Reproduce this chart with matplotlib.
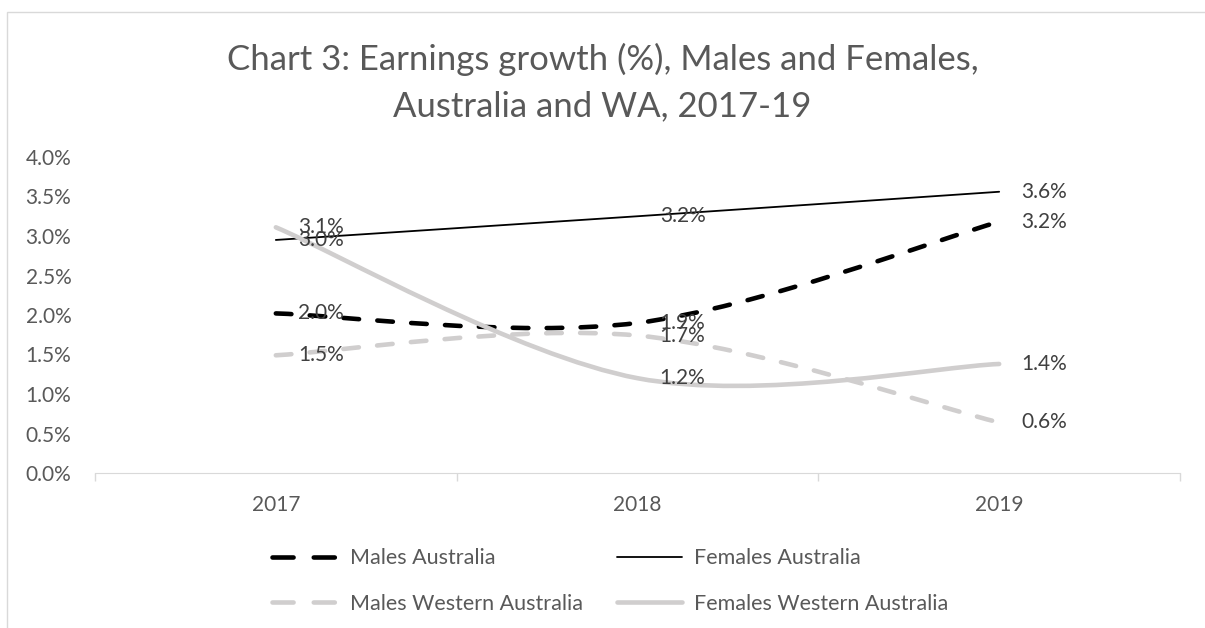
import numpy as np
import matplotlib
matplotlib.use("Agg")
import matplotlib.pyplot as plt
from matplotlib.path import Path
from matplotlib.patches import PathPatch, Rectangle
from matplotlib.lines import Line2D

plt.rcParams['font.family'] = ['Lato', 'DejaVu Sans']

years = ['2017', '2018', '2019']
males_aus = [2.02, 1.90, 3.18]
females_aus = [2.95, 3.25, 3.56]
males_wa = [1.49, 1.74, 0.64]
females_wa = [3.11, 1.20, 1.38]

TXT = '#595959'
LBL = '#404040'
GREY = '#D0CECE'


def smooth_path(xs, ys, t=1 / 6):
    # Excel-like smoothed line: cubic Bezier segments from Catmull-Rom tangents
    p = np.column_stack([xs, ys]).astype(float)
    ext = np.vstack([p[0], p, p[-1]])
    verts = [p[0]]
    codes = [Path.MOVETO]
    for i in range(len(p) - 1):
        p0, p1, p2, p3 = ext[i], ext[i + 1], ext[i + 2], ext[i + 3]
        verts += [p1 + (p2 - p0) * t, p2 - (p3 - p1) * t, p2]
        codes += [Path.CURVE4] * 3
    return Path(verts, codes)


fig = plt.figure(figsize=(12.05, 6.28), dpi=100)
ax = fig.add_axes([95 / 1205, 155 / 628, 1085 / 1205, 316 / 628])

x = np.arange(len(years))
series = [
    ('Males Australia', males_aus, 'black', 3.3, (0, (3.4, 4.0))),
    ('Females Australia', females_aus, 'black', 1.3, '-'),
    ('Males Western Australia', males_wa, GREY, 3.3, (0, (3.4, 4.0))),
    ('Females Western Australia', females_wa, GREY, 3.3, '-'),
]
handles = {}
for name, vals, col, lw, ls in series:
    patch = PathPatch(smooth_path(x, vals), fill=False, edgecolor=col, lw=lw,
                      linestyle=ls, capstyle='round', joinstyle='round')
    ax.add_patch(patch)
    hls = (0, (4.6, 4.4)) if ls != '-' else '-'
    handles[name] = Line2D([], [], color=col, lw=lw, linestyle=hls,
                           dash_capstyle='round', solid_capstyle='round')
    for xi, v in zip(x, vals):
        ax.annotate(f'{v:.1f}%', (xi, v), xytext=(16, 0), textcoords='offset points',
                    ha='left', va='center', fontsize=15, color=LBL)

ax.set_xlim(-0.5, 2.5)
ax.set_ylim(0, 4.0)
ax.set_yticks(np.arange(0, 4.01, 0.5))
ax.set_yticklabels([f'{v:.1f}%' for v in np.arange(0, 4.01, 0.5)])
ax.set_xticks(x)
ax.set_xticklabels(years)
ax.set_xticks([-0.5, 0.5, 1.5, 2.5], minor=True)
ax.tick_params(axis='x', which='major', length=0, pad=16, labelsize=15, labelcolor=TXT)
ax.tick_params(axis='x', which='minor', length=6, color='#D9D9D9', width=1)
ax.tick_params(axis='y', length=0, pad=17, labelsize=15, labelcolor=TXT)
for s in ['top', 'right', 'left']:
    ax.spines[s].set_visible(False)
ax.spines['bottom'].set_color('#D9D9D9')

fig.suptitle('Chart 3: Earnings growth (%), Males and Females,\nAustralia and WA, 2017-19',
             y=1 - 43 / 628, va='top', fontsize=25, color=TXT, linespacing=1.55)

order = ['Males Australia', 'Males Western Australia', 'Females Australia',
         'Females Western Australia']
fig.legend([handles[k] for k in order], order, ncol=2, loc='center left',
           bbox_to_anchor=(272 / 1205, 1 - 581 / 628), frameon=False, fontsize=15.5,
           labelcolor=TXT, handlelength=3.0, handletextpad=0.6, borderpad=0,
           borderaxespad=0, columnspacing=1.6, labelspacing=1.2)

fig.add_artist(Rectangle((7 / 1205, -0.1), 1.2, 1.1 - 12 / 628, transform=fig.transFigure,
                         fill=False, edgecolor='#D9D9D9', lw=1))

fig.savefig('out.png', dpi=100)
